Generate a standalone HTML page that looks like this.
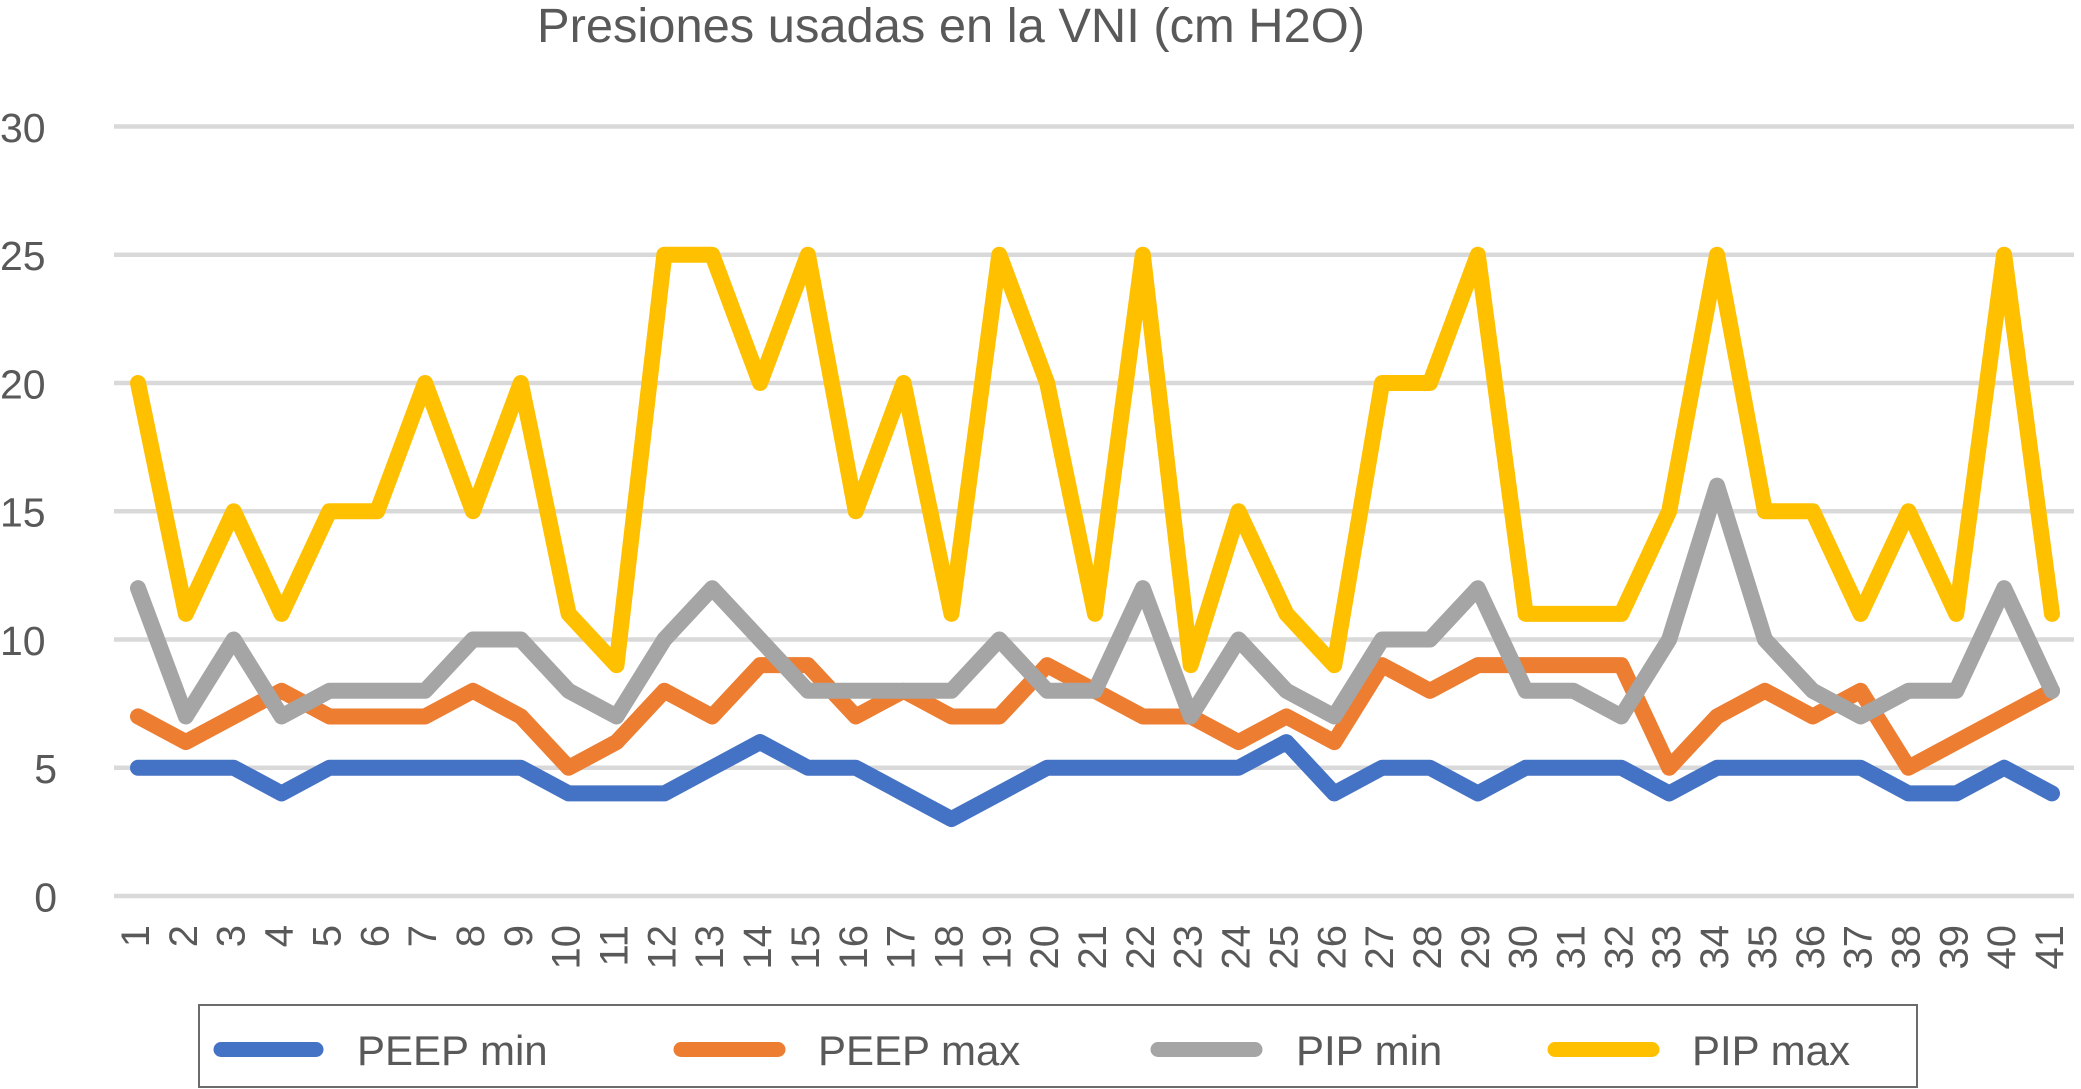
<!DOCTYPE html>
<html>
<head>
<meta charset="utf-8">
<style>
  html, body { margin: 0; padding: 0; background: #ffffff; }
  body { width: 2081px; height: 1089px; overflow: hidden; }
  svg { display: block; }
  text { font-family: "Liberation Sans", Arial, sans-serif; fill: #595959; }
</style>
</head>
<body>
<svg width="2081" height="1089" viewBox="0 0 2081 1089" xmlns="http://www.w3.org/2000/svg">
  <rect x="0" y="0" width="2081" height="1089" fill="#ffffff"/>

  <text x="537" y="42" font-size="48" textLength="828" lengthAdjust="spacingAndGlyphs">Presiones usadas en la VNI (cm H2O)</text>

  <g stroke="#d9d9d9" stroke-width="4.5">
    <line x1="114" y1="126.5" x2="2074" y2="126.5"/>
    <line x1="114" y1="254.75" x2="2074" y2="254.75"/>
    <line x1="114" y1="383" x2="2074" y2="383"/>
    <line x1="114" y1="511.25" x2="2074" y2="511.25"/>
    <line x1="114" y1="639.5" x2="2074" y2="639.5"/>
    <line x1="114" y1="767.75" x2="2074" y2="767.75"/>
    <line x1="114" y1="896" x2="2074" y2="896"/>
  </g>

  <g font-size="41">
    <text x="0" y="142">30</text>
    <text x="0" y="270">25</text>
    <text x="0" y="398.5">20</text>
    <text x="0" y="526.5">15</text>
    <text x="0" y="655">10</text>
    <text x="57" y="783" text-anchor="end">5</text>
    <text x="57" y="911.5" text-anchor="end">0</text>
  </g>

  <g fill="none" stroke-linejoin="round" stroke-linecap="round" stroke-width="16">
    <polyline stroke="#4472C4" points="138,767.75 185.85,767.75 233.7,767.75 281.55,793.4 329.4,767.75 377.25,767.75 425.1,767.75 472.95,767.75 520.8,767.75 568.65,793.4 616.5,793.4 664.35,793.4 712.2,767.75 760.05,742.1 807.9,767.75 855.75,767.75 903.6,793.4 951.45,819.05 999.3,793.4 1047.15,767.75 1095,767.75 1142.85,767.75 1190.7,767.75 1238.55,767.75 1286.4,742.1 1334.25,793.4 1382.1,767.75 1429.95,767.75 1477.8,793.4 1525.65,767.75 1573.5,767.75 1621.35,767.75 1669.2,793.4 1717.05,767.75 1764.9,767.75 1812.75,767.75 1860.6,767.75 1908.45,793.4 1956.3,793.4 2004.15,767.75 2052,793.4"/>
    <polyline stroke="#ED7D31" points="138,716.45 185.85,742.1 233.7,716.45 281.55,690.8 329.4,716.45 377.25,716.45 425.1,716.45 472.95,690.8 520.8,716.45 568.65,767.75 616.5,742.1 664.35,690.8 712.2,716.45 760.05,665.15 807.9,665.15 855.75,716.45 903.6,690.8 951.45,716.45 999.3,716.45 1047.15,665.15 1095,690.8 1142.85,716.45 1190.7,716.45 1238.55,742.1 1286.4,716.45 1334.25,742.1 1382.1,665.15 1429.95,690.8 1477.8,665.15 1525.65,665.15 1573.5,665.15 1621.35,665.15 1669.2,767.75 1717.05,716.45 1764.9,690.8 1812.75,716.45 1860.6,690.8 1908.45,767.75 1956.3,742.1 2004.15,716.45 2052,690.8"/>
    <polyline stroke="#A5A5A5" points="138,588.2 185.85,716.45 233.7,639.5 281.55,716.45 329.4,690.8 377.25,690.8 425.1,690.8 472.95,639.5 520.8,639.5 568.65,690.8 616.5,716.45 664.35,639.5 712.2,588.2 760.05,639.5 807.9,690.8 855.75,690.8 903.6,690.8 951.45,690.8 999.3,639.5 1047.15,690.8 1095,690.8 1142.85,588.2 1190.7,716.45 1238.55,639.5 1286.4,690.8 1334.25,716.45 1382.1,639.5 1429.95,639.5 1477.8,588.2 1525.65,690.8 1573.5,690.8 1621.35,716.45 1669.2,639.5 1717.05,485.6 1764.9,639.5 1812.75,690.8 1860.6,716.45 1908.45,690.8 1956.3,690.8 2004.15,588.2 2052,690.8"/>
    <polyline stroke="#FFC000" points="138,383 185.85,613.85 233.7,511.25 281.55,613.85 329.4,511.25 377.25,511.25 425.1,383 472.95,511.25 520.8,383 568.65,613.85 616.5,665.15 664.35,254.75 712.2,254.75 760.05,383 807.9,254.75 855.75,511.25 903.6,383 951.45,613.85 999.3,254.75 1047.15,383 1095,613.85 1142.85,254.75 1190.7,665.15 1238.55,511.25 1286.4,613.85 1334.25,665.15 1382.1,383 1429.95,383 1477.8,254.75 1525.65,613.85 1573.5,613.85 1621.35,613.85 1669.2,511.25 1717.05,254.75 1764.9,511.25 1812.75,511.25 1860.6,613.85 1908.45,511.25 1956.3,613.85 2004.15,254.75 2052,613.85"/>
  </g>

  <g font-size="40" text-anchor="end">
    <text transform="translate(149,925) rotate(-90)">1</text>
    <text transform="translate(196.85,925) rotate(-90)">2</text>
    <text transform="translate(244.7,925) rotate(-90)">3</text>
    <text transform="translate(292.55,925) rotate(-90)">4</text>
    <text transform="translate(340.4,925) rotate(-90)">5</text>
    <text transform="translate(388.25,925) rotate(-90)">6</text>
    <text transform="translate(436.1,925) rotate(-90)">7</text>
    <text transform="translate(483.95,925) rotate(-90)">8</text>
    <text transform="translate(531.8,925) rotate(-90)">9</text>
    <text transform="translate(579.65,925) rotate(-90)">10</text>
    <text transform="translate(627.5,925) rotate(-90)">11</text>
    <text transform="translate(675.35,925) rotate(-90)">12</text>
    <text transform="translate(723.2,925) rotate(-90)">13</text>
    <text transform="translate(771.05,925) rotate(-90)">14</text>
    <text transform="translate(818.9,925) rotate(-90)">15</text>
    <text transform="translate(866.75,925) rotate(-90)">16</text>
    <text transform="translate(914.6,925) rotate(-90)">17</text>
    <text transform="translate(962.45,925) rotate(-90)">18</text>
    <text transform="translate(1010.3,925) rotate(-90)">19</text>
    <text transform="translate(1058.15,925) rotate(-90)">20</text>
    <text transform="translate(1106,925) rotate(-90)">21</text>
    <text transform="translate(1153.85,925) rotate(-90)">22</text>
    <text transform="translate(1201.7,925) rotate(-90)">23</text>
    <text transform="translate(1249.55,925) rotate(-90)">24</text>
    <text transform="translate(1297.4,925) rotate(-90)">25</text>
    <text transform="translate(1345.25,925) rotate(-90)">26</text>
    <text transform="translate(1393.1,925) rotate(-90)">27</text>
    <text transform="translate(1440.95,925) rotate(-90)">28</text>
    <text transform="translate(1488.8,925) rotate(-90)">29</text>
    <text transform="translate(1536.65,925) rotate(-90)">30</text>
    <text transform="translate(1584.5,925) rotate(-90)">31</text>
    <text transform="translate(1632.35,925) rotate(-90)">32</text>
    <text transform="translate(1680.2,925) rotate(-90)">33</text>
    <text transform="translate(1728.05,925) rotate(-90)">34</text>
    <text transform="translate(1775.9,925) rotate(-90)">35</text>
    <text transform="translate(1823.75,925) rotate(-90)">36</text>
    <text transform="translate(1871.6,925) rotate(-90)">37</text>
    <text transform="translate(1919.45,925) rotate(-90)">38</text>
    <text transform="translate(1967.3,925) rotate(-90)">39</text>
    <text transform="translate(2015.15,925) rotate(-90)">40</text>
    <text transform="translate(2063,925) rotate(-90)">41</text>
  </g>

  <rect x="199" y="1005" width="1718" height="82" fill="none" stroke="#6b6b6b" stroke-width="2"/>
  <g stroke-width="15" stroke-linecap="round">
    <line x1="221" y1="1049.5" x2="316" y2="1049.5" stroke="#4472C4"/>
    <line x1="681" y1="1049.5" x2="778" y2="1049.5" stroke="#ED7D31"/>
    <line x1="1158" y1="1049.5" x2="1255" y2="1049.5" stroke="#A5A5A5"/>
    <line x1="1555" y1="1049.5" x2="1652" y2="1049.5" stroke="#FFC000"/>
  </g>
  <g font-size="42">
    <text x="357" y="1065">PEEP min</text>
    <text x="818" y="1065">PEEP max</text>
    <text x="1296" y="1065">PIP min</text>
    <text x="1692" y="1065">PIP max</text>
  </g>
</svg>
</body>
</html>
